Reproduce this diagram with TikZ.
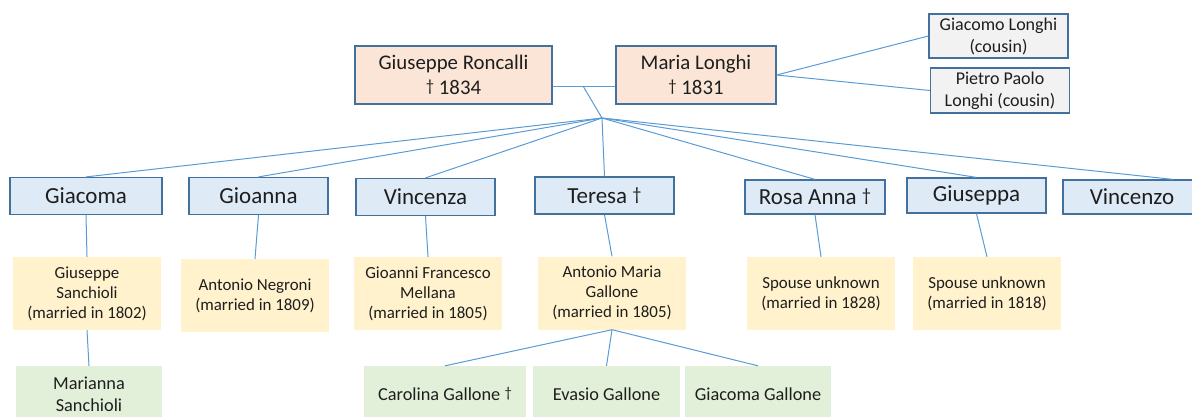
\documentclass[tikz,border=0pt]{standalone}
\usepackage{fontspec}
\setmainfont{Carlito}

\definecolor{linkblue}{HTML}{5B9BD5}
\definecolor{edgeblue}{HTML}{41719C}
\definecolor{textgray}{HTML}{1E1E1E}
\definecolor{peach}{HTML}{FBE5D6}
\definecolor{paleblue}{HTML}{DEEBF7}
\definecolor{palegray}{HTML}{F2F2F2}
\definecolor{paleyellow}{HTML}{FFF2CC}
\definecolor{palegreen}{HTML}{E2F0D9}

\newcommand{\obit}{\raisebox{0.3ex}{\scalebox{0.8}{†}}}

\tikzset{
  box/.style={rectangle, align=center, inner sep=2pt, text=textgray},
  parentbox/.style={box, draw=edgeblue, line width=1.2pt, fill=peach,
    minimum height=58pt, font=\fontsize{20.8}{25}\selectfont},
  cousinbox/.style={box, draw=edgeblue, line width=1.2pt, fill=palegray,
    minimum width=139pt, minimum height=44pt, font=\fontsize{18}{22}\selectfont},
  childbox/.style={box, draw=edgeblue, line width=1.2pt, fill=paleblue,
    minimum width=139pt, minimum height=37pt, font=\fontsize{23}{26}\selectfont},
  spousebox/.style={box, fill=paleyellow, minimum width=148pt, minimum height=73pt,
    font=\fontsize{16.9}{20}\selectfont},
  grandbox/.style={box, fill=palegreen, minimum width=146pt, minimum height=56pt,
    font=\fontsize{18.3}{22}\selectfont},
  link/.style={draw=linkblue, line width=1pt}
}

\begin{document}
\begin{tikzpicture}[x=1pt,y=-1pt]
  \clip (0,0) rectangle (1192,416);

  % parents and cousins
  \node[parentbox, minimum width=197pt] (GR) at (453.5,75) {Giuseppe Roncalli\\\obit\ 1834};
  \node[parentbox, minimum width=160pt] (ML) at (696,75) {Maria Longhi\\\obit\ 1831};
  \node[cousinbox] (GL) at (998.5,36) {Giacomo Longhi\\(cousin)};
  \node[cousinbox, minimum height=45pt] (PP) at (1000,90.5) {Pietro Paolo\\Longhi (cousin)};

  % children
  \node[childbox, minimum width=152pt] (C1) at (86,196) {Giacoma};
  \node[childbox] (C2) at (258.5,196) {Gioanna};
  \node[childbox] (C3) at (425.5,197) {Vincenza};
  \node[childbox] (C4) at (604.5,195.5) {Teresa \obit};
  \node[childbox, minimum width=140pt, minimum height=34pt] (C5) at (815,197) {Rosa Anna \obit};
  \node[childbox, minimum height=35pt] (C6) at (976.5,195.5) {Giuseppa};
  \node[childbox, minimum width=138pt, minimum height=34pt] (C7) at (1132,197) {Vincenzo};

  % spouses
  \node[spousebox] (S1) at (87,293.5) {Giuseppe\\Sanchioli\\(married in 1802)};
  \node[spousebox] (S2) at (255,295.5) {Antonio Negroni\\(married in 1809)};
  \node[spousebox] (S3) at (428,293.5) {Gioanni Francesco\\Mellana\\(married in 1805)};
  \node[spousebox] (S4) at (612,293) {Antonio Maria\\Gallone\\(married in 1805)};
  \node[spousebox] (S5) at (821,293.5) {Spouse unknown\\(married in 1828)};
  \node[spousebox] (S6) at (987,293.5) {Spouse unknown\\(married in 1818)};

  % grandchildren
  \node[grandbox] (K1) at (89,394) {Marianna\\Sanchioli};
  \node[grandbox, minimum width=162pt] (K2) at (445,394) {Carolina Gallone \obit};
  \node[grandbox, minimum width=147pt] (K3) at (606.5,394) {Evasio Gallone};
  \node[grandbox] (K4) at (758,394) {Giacoma Gallone};

  \coordinate (M) at (583,86);
  \coordinate (H) at (602,118);

  % Draw the links
  \draw[link] (GR.east |- M) -- (ML.west |- M);
  \draw[link] (M) -- (H);
  \draw[link] (ML.east) -- (GL.west);
  \draw[link] (ML.east) -- (PP.west);

  \foreach \c in {C1,C2,C3,C4,C5,C6}
    \draw[link] (H) -- (\c.north);
  \draw[link] (H) -- ([xshift=41pt]C7.north);

  \foreach \c/\s in {C1/S1,C2/S2,C3/S3,C4/S4,C5/S5,C6/S6}
    \draw[link] (\c.south) -- (\s.north);

  \draw[link] (S1.south) -- (K1.north);
  \draw[link] (S4.south) -- (K2.north);
  \draw[link] (S4.south) -- (K3.north);
  \draw[link] (S4.south) -- (K4.north);

\end{tikzpicture}
\end{document}
